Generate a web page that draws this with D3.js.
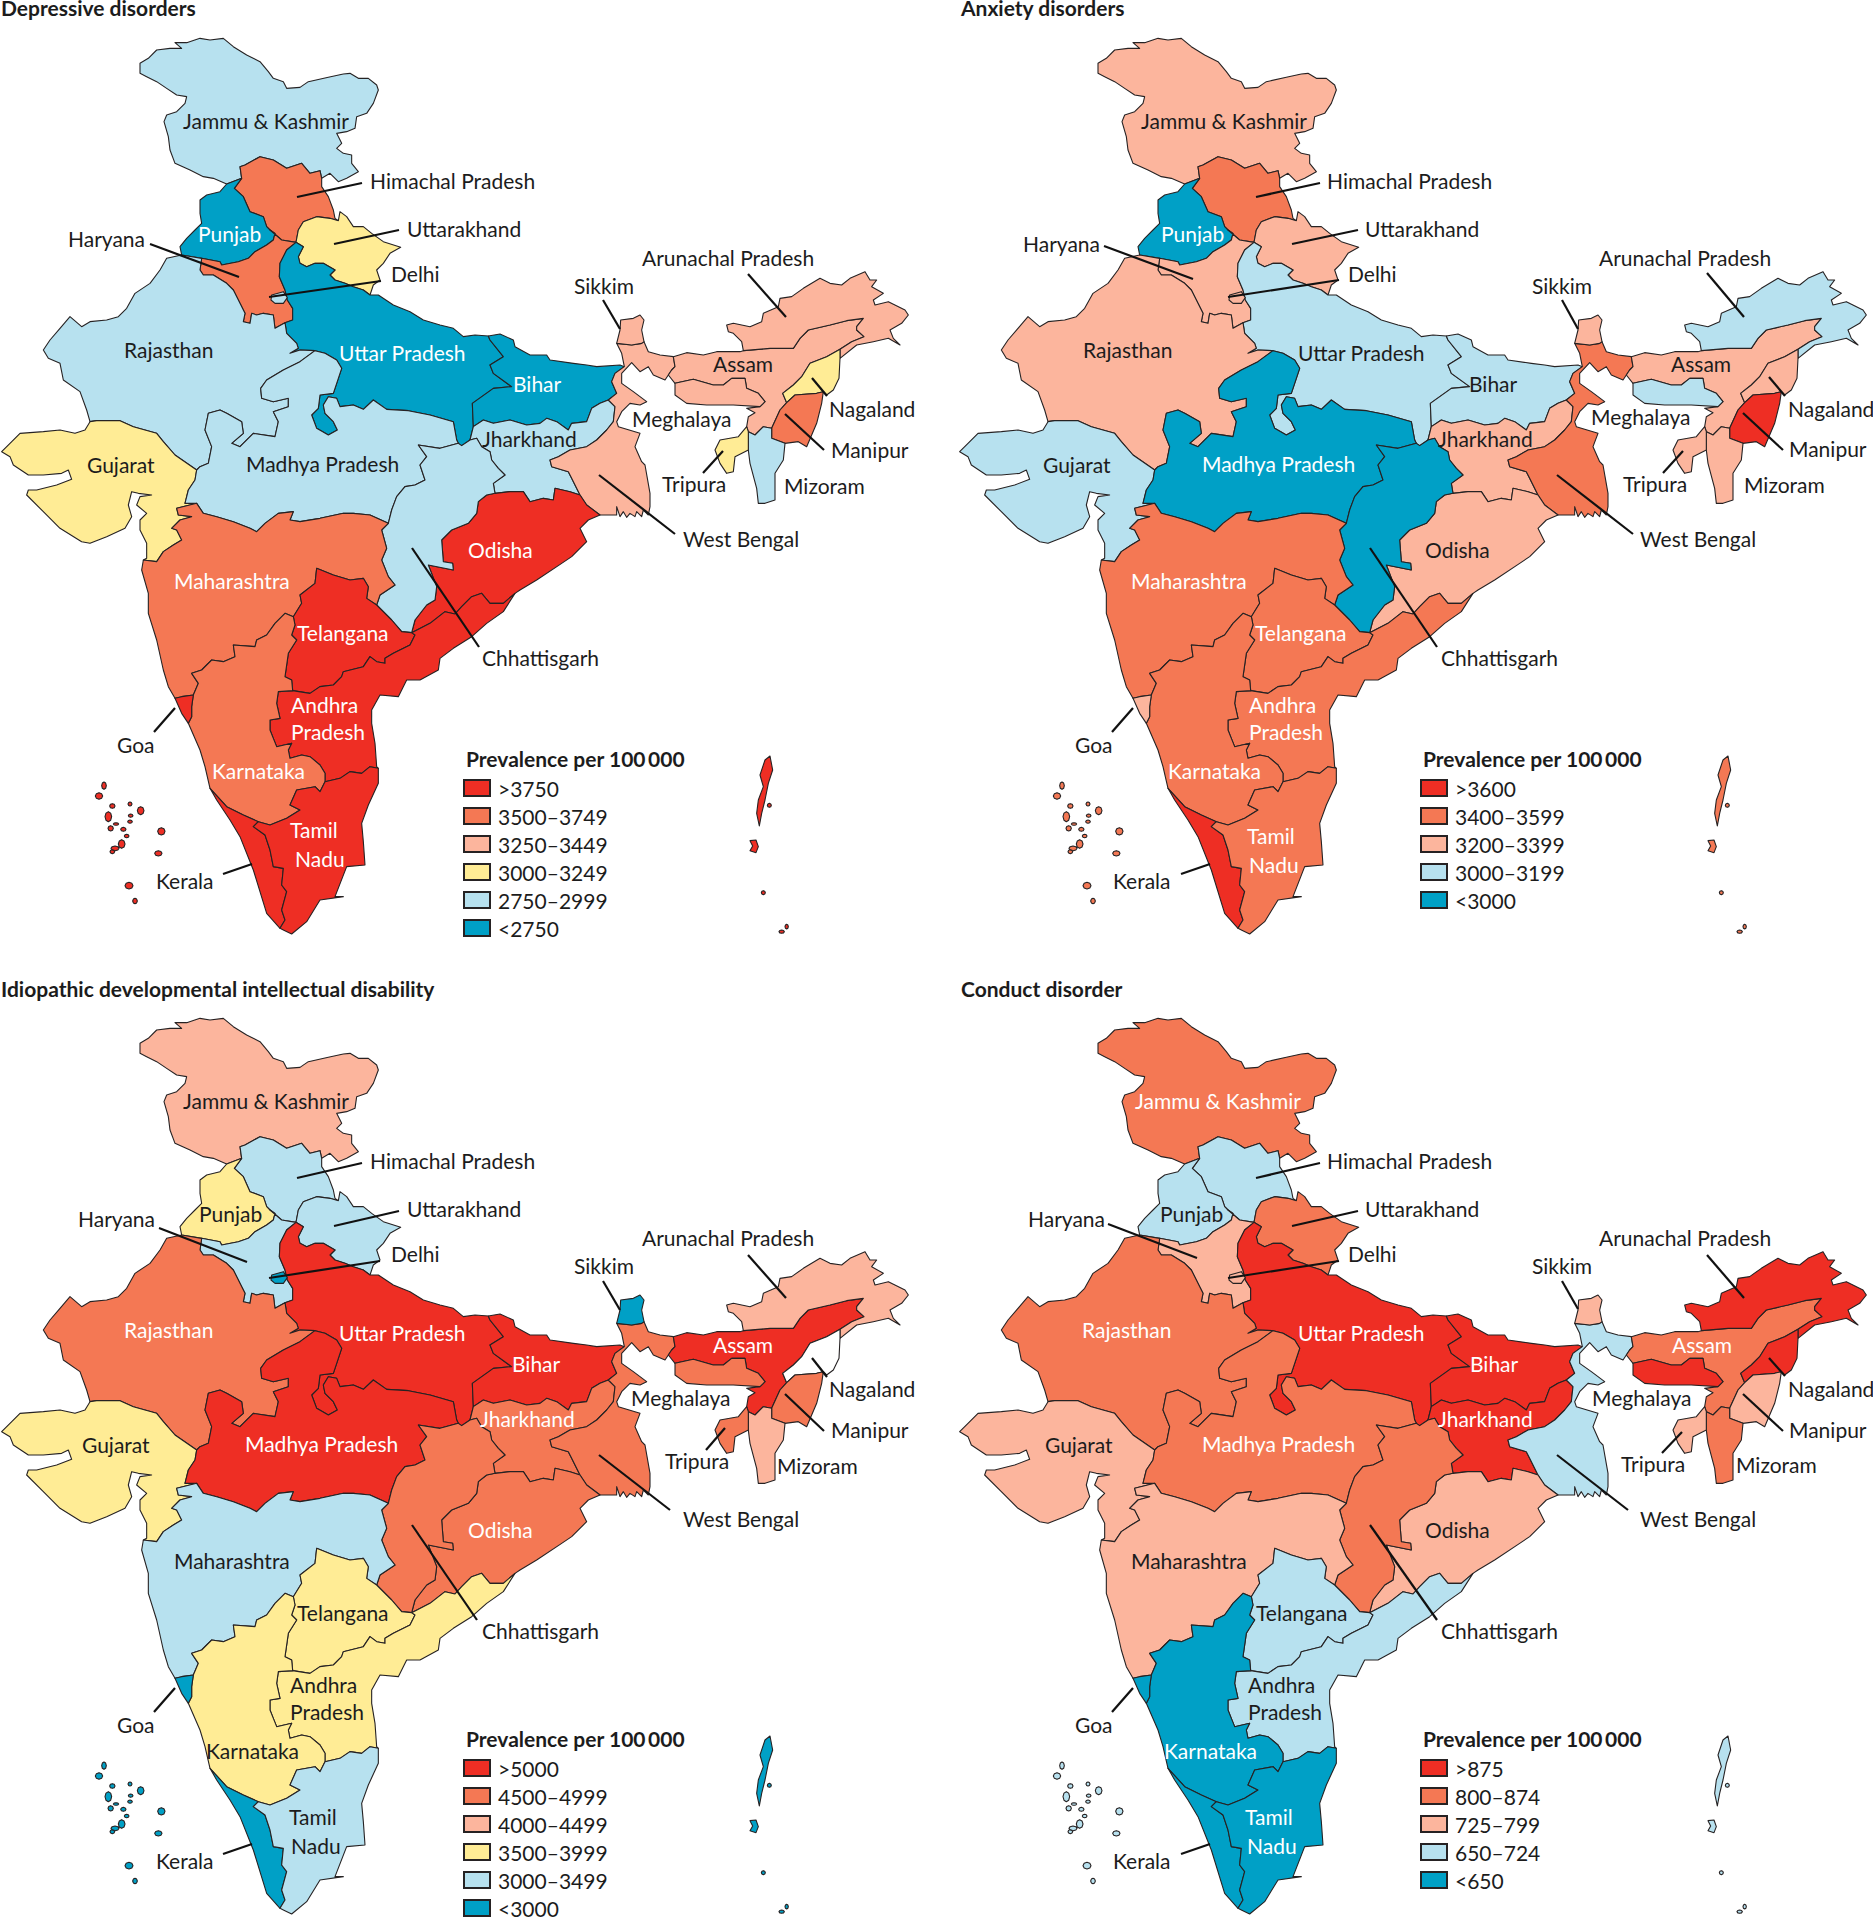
<!DOCTYPE html>
<html>
<head>
<meta charset="utf-8">
<title>Prevalence of mental disorders by state, India</title>
<script src="https://cdn.jsdelivr.net/npm/d3@7"></script>
<style>
    body { margin: 0; background: #fff; }
    text { font-family: Lato, "Noto Sans", sans-serif; font-size: 21px; fill: #1c1c1c; }
    .title, .legend-title { font-weight: 700; }
    .state { stroke: #262223; stroke-width: 1.1; stroke-linejoin: round; }
    .leader { stroke: #111; stroke-width: 2.2; }
</style>
</head>
<body>
<div id="map-container"></div>
<script>
// Band colours, darkest red to blue
var red = "#ee2e24", orange = "#f47854", peach = "#fcb59d", yellow = "#ffec95", lightBlue = "#b7e1ef", blue = "#00a0c6";

// States, in draw order
const stateNames = ["Jammu & Kashmir", "Himachal Pradesh", "Punjab", "Haryana", "Uttarakhand", "Uttar Pradesh", "Rajasthan", "Gujarat",
    "Madhya Pradesh", "Bihar", "Jharkhand", "West Bengal", "Sikkim", "Assam", "Arunachal Pradesh", "Meghalaya", "Nagaland", "Manipur",
    "Mizoram", "Tripura", "Odisha", "Chhattisgarh", "Maharashtra", "Telangana", "Andhra Pradesh", "Karnataka", "Goa", "Kerala",
    "Tamil Nadu", "Delhi", "Lakshadweep", "Andaman & Nicobar"];

// Legend bands
const depressiveBands = [">3750", "3500–3749", "3250–3449", "3000–3249", "2750–2999", "<2750"];
const anxietyBands = [">3600", "3400–3599", "3200–3399", "3000–3199", "<3000"];
const idiopathicBands = [">5000", "4500–4999", "4000–4499", "3500–3999", "3000–3499", "<3000"];
const conductBands = [">875", "800–874", "725–799", "650–724", "<650"];

// Band index of each state, same order as stateNames. null = no fill
const depressiveValues = [4, 1, 5, 1, 3, 5, 4, 3, 4, 5, 4, 2, 2, 2, 2, 2, 3, 1, 4, 3, 0, 4, 1, 0, 0, 1, 0, 0, 0, 4, 0, 0];
const anxietyValues = [2, 1, 4, 2, 2, 3, 2, 3, 4, 3, 2, 1, 2, 2, 3, 3, 2, 0, 2, 2, 2, 4, 1, 1, 1, 1, 2, 0, 1, 2, 1, 1];
const idiopathicValues = [2, 4, 3, 4, 4, 0, 1, 3, 0, 0, 1, 1, 5, 0, 2, 1, null, 1, 2, 1, 1, 1, 4, 3, 3, 3, 5, 5, 4, 5, 5, 5];
const conductValues = [1, 3, 3, 2, 1, 0, 1, 2, 1, 0, 0, 3, 2, 1, 0, 0, 0, 2, 1, 2, 2, 1, 2, 3, 3, 4, 4, 4, 4, 2, 3, 3];

const arcs = {
    jkOuter: [[680,552],[640,535],[610,530],[570,510],[525,490],[510,450],[505,410],[492,365],[500,345],[530,335],[555,310],[560,290],[530,285],[500,265],[470,245],[440,230],[420,220],[420,190],[445,175],[470,150],[510,145],[545,145],[525,128],[560,128],[600,115],[630,120],[670,115],[700,140],[740,165],[780,185],[805,215],[820,235],[850,245],[860,265],[900,262],[925,245],[985,232],[1030,222],[1050,220],[1075,235],[1105,235],[1130,255],[1135,270],[1120,310],[1100,340],[1070,350],[1065,385],[1040,395],[1010,400],[1025,430],[1010,445],[1030,460],[1055,465],[1055,490],[1075,515],[1040,535],[1015,545],[990,520],[965,535]],
    jkHp: [[965,535],[960,512],[930,520],[905,490],[860,505],[820,480],[780,470],[735,495],[720,500],[725,535]],
    jkPb: [[725,535],[680,552]],
    hpPb: [[725,535],[703,565],[730,590],[750,635],[790,650],[800,680],[810,690]],
    hpHr: [[810,690],[845,720],[888,727]],
    hpUk: [[888,727],[895,690],[910,665],[950,650],[990,655],[1015,662]],
    hpOuter: [[965,535],[965,560],[985,590],[1000,630],[1005,655],[1015,662]],
    pbOuter: [[680,552],[660,575],[620,585],[600,600],[600,640],[605,670],[585,690],[560,715],[540,740],[545,765]],
    pbRj: [[545,765],[605,775]],
    pbHr: [[605,775],[660,785],[665,795],[715,785],[745,775],[765,755],[800,735],[820,720],[825,700],[810,690]],
    hrRj: [[605,775],[600,810],[610,825],[640,825],[680,850],[700,870],[735,940],[730,965],[750,970],[755,940],[770,945],[790,940],[820,945],[825,985],[855,968]],
    hrUp: [[855,968],[878,960],[878,925],[862,900],[855,870],[838,830],[840,790],[860,750],[888,727]],
    ukOuter: [[1015,662],[1020,635],[1040,650],[1060,680],[1090,680],[1115,700],[1150,725],[1202,742],[1170,760],[1150,790],[1130,810],[1140,840],[1120,855],[1110,885]],
    ukUp: [[1110,885],[1090,870],[1060,860],[1035,850],[1005,840],[990,825],[1005,810],[970,790],[945,790],[920,800],[900,790],[895,770],[910,740],[888,727]],
    upOuter: [[1110,885],[1135,885],[1180,915],[1230,935],[1270,960],[1320,975],[1360,985],[1390,1010],[1425,1005],[1465,1008]],
    upBr: [[1465,1008],[1470,1020],[1510,1070],[1470,1095],[1480,1120],[1535,1160],[1480,1165],[1417,1210],[1420,1280]],
    upJh: [[1420,1280],[1410,1320]],
    upCh: [[1410,1320],[1385,1337],[1375,1330]],
    upMp: [[945,1052],[975,1060],[1010,1080],[1025,1105],[1010,1150],[1000,1180],[960,1185],[955,1225],[935,1245],[950,1285],[985,1305],[1012,1290],[1000,1265],[975,1240],[970,1215],[985,1190],[1010,1195],[1020,1220],[1060,1215],[1090,1228],[1120,1200],[1160,1228],[1225,1232],[1290,1245],[1360,1265],[1370,1320],[1375,1330]],
    upRj: [[855,968],[860,1000],[890,1030],[895,1045],[870,1060],[900,1050],[945,1052]],
    brOuter: [[1465,1008],[1500,1002],[1540,1020],[1545,1040],[1590,1065],[1640,1065],[1650,1080],[1720,1090],[1760,1095],[1790,1100],[1860,1095],[1873,1100]],
    brWb: [[1873,1100],[1845,1120],[1835,1145],[1850,1180],[1825,1200]],
    brJh: [[1825,1200],[1800,1210],[1775,1225],[1760,1265],[1715,1270],[1705,1290],[1670,1265],[1640,1255],[1620,1270],[1580,1275],[1530,1260],[1480,1270],[1450,1260],[1420,1280]],
    jhWb: [[1825,1200],[1845,1220],[1840,1265],[1820,1290],[1790,1320],[1760,1340],[1710,1350],[1675,1370],[1650,1380],[1655,1400],[1705,1415],[1715,1435],[1740,1485]],
    jhOd: [[1740,1485],[1710,1475],[1665,1465],[1660,1500],[1630,1495],[1590,1505],[1570,1475],[1530,1475],[1485,1480]],
    jhCh: [[1485,1480],[1480,1450],[1515,1425],[1495,1405],[1475,1380],[1470,1355],[1445,1340],[1430,1315],[1410,1320]],
    odWb: [[1740,1485],[1760,1515],[1800,1545]],
    odCoast: [[1800,1545],[1765,1560],[1740,1585],[1760,1625],[1715,1670],[1685,1690],[1610,1740],[1560,1770],[1545,1780]],
    apOd: [[1235,1898],[1290,1870],[1335,1835],[1365,1842],[1385,1820],[1415,1790],[1445,1780],[1470,1810],[1510,1810],[1545,1780]],
    chOd: [[1235,1898],[1245,1860],[1280,1815],[1305,1800],[1310,1760],[1285,1695],[1360,1710],[1358,1690],[1330,1685],[1325,1620],[1355,1590],[1405,1570],[1430,1540],[1435,1505],[1460,1485],[1485,1480]],
    chMp: [[1375,1330],[1320,1345],[1255,1335],[1280,1370],[1260,1395],[1275,1440],[1245,1455],[1215,1460],[1190,1490],[1175,1530],[1165,1570]],
    chMh: [[1165,1570],[1145,1590],[1160,1645],[1145,1680],[1165,1730],[1185,1755],[1140,1785],[1130,1815]],
    chTl: [[1130,1815],[1175,1860],[1205,1895],[1235,1898]],
    rjMp: [[945,1052],[900,1085],[850,1110],[800,1140],[782,1165],[785,1195],[820,1205],[865,1195],[865,1220],[820,1235],[835,1265],[825,1310],[760,1300],[720,1340],[695,1330],[730,1300],[725,1265],[680,1240],[660,1230],[625,1240],[615,1290],[635,1340],[625,1390],[600,1400],[590,1410]],
    mpGj: [[590,1410],[585,1440],[565,1470],[555,1510],[590,1510]],
    mhMp: [[590,1510],[610,1540],[650,1550],[700,1565],[750,1585],[770,1595],[795,1570],[835,1540],[880,1535],[870,1560],[900,1565],[960,1555],[1030,1540],[1060,1540],[1110,1545],[1165,1570]],
    rjOuter: [[545,765],[500,775],[480,810],[450,850],[405,880],[380,925],[355,950],[320,960],[270,965],[245,980],[210,950],[180,985],[150,1020],[130,1050],[145,1075],[180,1090],[190,1140],[240,1175],[260,1230],[270,1265]],
    rjGj: [[270,1265],[290,1262],[360,1262],[400,1280],[470,1300],[490,1325],[525,1365],[590,1410]],
    gjOuter: [[270,1265],[255,1290],[225,1300],[180,1290],[130,1295],[60,1300],[30,1330],[5,1355],[30,1370],[40,1395],[85,1425],[130,1425],[185,1420],[205,1410],[215,1438],[170,1455],[110,1470],[85,1470],[80,1485],[130,1535],[180,1585],[245,1625],[270,1630],[320,1610],[375,1585],[395,1550],[385,1515],[395,1475],[415,1480],[455,1485],[420,1490],[410,1515],[440,1540],[420,1560],[420,1590],[440,1630],[440,1675],[430,1680]],
    gjMh: [[430,1680],[470,1685],[490,1655],[520,1635],[545,1620],[530,1590],[515,1585],[540,1560],[575,1550],[535,1545],[530,1525],[590,1510]],
    mhCoast: [[430,1680],[425,1710],[445,1780],[445,1840],[470,1920],[490,2010],[505,2060],[525,2095]],
    mhGoa: [[525,2095],[545,2090],[580,2085]],
    kaMh: [[580,2085],[595,2050],[575,2020],[605,2010],[635,1980],[670,1985],[705,1970],[700,1935],[765,1940],[770,1920],[800,1905],[825,1870],[855,1840],[880,1850]],
    mhTl: [[880,1850],[905,1810],[900,1785],[945,1750],[950,1705],[1000,1725],[1050,1740],[1090,1735],[1105,1760],[1100,1795],[1130,1815]],
    goaCoast: [[525,2095],[545,2140],[565,2170]],
    goaKa: [[565,2170],[575,2150],[575,2120],[580,2085]],
    kaCoast: [[565,2170],[600,2250],[615,2300],[630,2365]],
    kaKl: [[630,2365],[680,2420],[730,2445],[775,2465]],
    kaTn: [[775,2465],[810,2475],[860,2455],[900,2430],[870,2415],[890,2370],[945,2360],[960,2375],[975,2345]],
    apKa: [[975,2345],[975,2320],[960,2295],[930,2270],[905,2265],[870,2275],[865,2250],[875,2230],[830,2240],[820,2215],[810,2190],[810,2160],[840,2155],[830,2110],[835,2075],[878,2072]],
    kaTl: [[878,2072],[875,2040],[855,2030],[865,1960],[890,1920],[875,1905],[885,1875],[880,1850]],
    apTl: [[878,2072],[930,2080],[960,2060],[1000,2055],[1025,2030],[1030,2015],[1090,2000],[1110,1970],[1130,1985],[1155,1990],[1155,1975],[1180,1960],[1230,1935],[1245,1905],[1235,1898]],
    apCoast: [[1545,1780],[1510,1835],[1460,1870],[1415,1910],[1360,1945],[1320,1975],[1315,2010],[1260,2040],[1220,2040],[1195,2090],[1140,2085],[1115,2130],[1115,2170],[1125,2230],[1130,2300],[1135,2305]],
    apTn: [[1135,2305],[1110,2300],[1085,2320],[1050,2315],[1020,2335],[975,2345]],
    tnOuter: [[1135,2305],[1135,2350],[1105,2415],[1085,2470],[1090,2525],[1095,2595],[1040,2600],[1005,2690],[1030,2690],[960,2700],[920,2765],[875,2802],[850,2790],[840,2785]],
    klTn: [[775,2465],[760,2480],[795,2505],[810,2550],[820,2600],[850,2605],[845,2655],[860,2675],[845,2730],[855,2760],[840,2785]],
    klCoast: [[840,2785],[800,2740],[760,2610],[720,2510],[690,2460],[650,2400],[630,2365]],
    skWb: [[1850,1030],[1895,1035],[1925,1030],[1932,1025]],
    skOuter: [[1932,1025],[1925,990],[1932,960],[1920,945],[1900,955],[1862,960],[1860,990],[1850,1030]],
    wbTop1: [[1873,1100],[1865,1060],[1850,1030]],
    wbTop2: [[1932,1025],[1945,1055],[1980,1065],[2020,1070]],
    asWb: [[2020,1070],[2025,1100],[2015,1110],[2005,1125]],
    wbEast: [[2005,1125],[1995,1140],[1960,1125],[1945,1100],[1920,1115],[1895,1088],[1865,1120],[1865,1150],[1900,1175],[1940,1205],[1920,1215],[1890,1210],[1865,1235],[1850,1265],[1855,1280],[1920,1300],[1905,1340],[1925,1385],[1935,1395],[1950,1480],[1950,1520],[1945,1545],[1930,1530],[1925,1550],[1910,1535],[1905,1550],[1890,1540],[1880,1552],[1870,1535],[1860,1550],[1850,1520],[1850,1545],[1800,1545]],
    asTop: [[2020,1070],[2060,1058],[2110,1065],[2150,1055],[2220,1055],[2230,1052]],
    asAr: [[2230,1052],[2310,1045],[2380,1045],[2400,1015],[2425,990],[2490,975],[2540,962],[2590,955],[2570,980],[2570,990],[2592,1010],[2555,1025],[2520,1048]],
    asNg: [[2520,1048],[2480,1070],[2430,1090],[2405,1130],[2380,1155],[2348,1180],[2360,1208]],
    asMn: [[2360,1208],[2340,1230],[2315,1285]],
    asMz: [[2315,1285],[2290,1280],[2265,1305],[2245,1295]],
    asTr: [[2245,1295],[2240,1280]],
    asOuter: [[2240,1280],[2245,1250],[2265,1238],[2240,1225],[2280,1220]],
    asMl: [[2280,1220],[2295,1205],[2275,1180],[2240,1165],[2235,1135],[2195,1135],[2170,1155],[2140,1155],[2080,1138],[2025,1150]],
    asWest: [[2025,1150],[2005,1125]],
    mlOuter: [[2025,1150],[2025,1185],[2060,1210],[2120,1215],[2200,1215],[2280,1220]],
    arOuter: [[2230,1052],[2225,1025],[2200,1000],[2185,995],[2180,975],[2200,970],[2250,980],[2285,965],[2290,940],[2335,920],[2340,895],[2375,890],[2410,865],[2460,835],[2490,850],[2525,855],[2550,835],[2595,815],[2610,840],[2630,840],[2615,860],[2650,880],[2620,900],[2625,915],[2665,905],[2715,930],[2725,945],[2705,970],[2670,990],[2680,1015],[2700,1035],[2665,1015],[2620,1025],[2570,1035],[2520,1075]],
    arNg: [[2520,1075],[2520,1048]],
    ngOuter: [[2520,1075],[2517,1135],[2500,1170],[2480,1185],[2470,1175]],
    mnNg: [[2360,1208],[2385,1185],[2450,1180],[2470,1175]],
    mnOuter: [[2470,1175],[2465,1210],[2450,1270],[2420,1340],[2395,1325],[2355,1330]],
    mzMn: [[2355,1330],[2315,1315],[2315,1285]],
    mzOuter: [[2355,1330],[2350,1380],[2325,1420],[2325,1500],[2295,1510],[2275,1510],[2270,1465],[2250,1390],[2245,1350]],
    mzTr: [[2245,1350],[2245,1295]],
    trOuter: [[2240,1280],[2215,1310],[2160,1320],[2145,1350],[2160,1390],[2180,1420],[2200,1415],[2205,1370],[2245,1350]],
    delhi: [[815,885],[850,875],[862,893],[850,910],[825,910],[813,900],[815,885]],
    andamanMain: [[2310,2268],[2318,2310],[2305,2350],[2295,2400],[2285,2440],[2278,2478],[2270,2440],[2275,2400],[2290,2360],[2280,2325],[2295,2280],[2310,2268]],
    littleAndaman: [[2250,2522],[2268,2520],[2275,2540],[2268,2558],[2250,2552],[2258,2538],[2250,2522]]
};

// Arcs that make up each state, "-" walks the arc backwards. Same order as stateNames
const stateRings = [
    ["jkOuter", "jkHp", "jkPb"],
    ["hpOuter", "-hpUk", "-hpHr", "-hpPb", "-jkHp"],
    ["pbOuter", "pbRj", "pbHr", "-hpPb", "jkPb"],
    ["pbHr", "hpHr", "-hrUp", "-hrRj"],
    ["hpUk", "ukOuter", "ukUp"],
    ["upOuter", "upBr", "upJh", "upCh", "-upMp", "-upRj", "hrUp", "-ukUp"],
    ["rjOuter", "rjGj", "-rjMp", "-upRj", "-hrRj", "-pbRj"],
    ["gjOuter", "gjMh", "-mpGj", "-rjGj"],
    ["rjMp", "mpGj", "mhMp", "-chMp", "-upMp"],
    ["brOuter", "brWb", "brJh", "-upBr"],
    ["-brJh", "jhWb", "jhOd", "jhCh", "-upJh"],
    ["wbTop1", "skWb", "wbTop2", "asWb", "wbEast", "-odWb", "-jhWb", "-brWb"],
    ["skWb", "skOuter"],
    ["asTop", "asAr", "asNg", "asMn", "asMz", "asTr", "asOuter", "asMl", "asWest", "-asWb"],
    ["arOuter", "arNg", "-asAr"],
    ["mlOuter", "asMl"],
    ["-asNg", "-arNg", "ngOuter", "-mnNg"],
    ["mnNg", "mnOuter", "mzMn", "-asMn"],
    ["-asMz", "-mzMn", "mzOuter", "mzTr"],
    ["trOuter", "mzTr", "asTr"],
    ["-jhOd", "odWb", "odCoast", "-apOd", "chOd"],
    ["chMp", "chMh", "chTl", "chOd", "jhCh", "upCh"],
    ["mhCoast", "mhGoa", "kaMh", "mhTl", "-chMh", "-mhMp", "-gjMh"],
    ["mhTl", "chTl", "-apTl", "kaTl"],
    ["apTl", "apOd", "apCoast", "apTn", "apKa"],
    ["kaCoast", "kaKl", "kaTn", "apKa", "kaTl", "-kaMh", "-goaKa"],
    ["goaCoast", "goaKa", "-mhGoa"],
    ["klCoast", "kaKl", "klTn"],
    ["tnOuter", "-klTn", "kaTn", "-apTn"],
    ["delhi"]
];

// Islands too small to trace: centre and radii in map units
const lakshadweepBlobs = [[312,2357,7,11],[297,2388,11,10],[337,2418,8,7],[390,2412,6,6],[422,2432,10,12],[392,2447,7,5],[390,2465,7,5],[325,2450,10,15],[348,2472,8,4],[332,2485,8,8],[370,2488,8,6],[380,2508,7,5],[484,2494,11,11],[365,2532,10,13],[345,2545,12,7],[337,2555,7,6],[475,2560,11,8],[387,2657,12,10],[405,2703,7,8]];
const andamanBlobs = [[2308,2416,6,6],[2290,2678,6,6],[2345,2795,8,5],[2360,2780,5,7]];

// Text and leader lines per panel
const depressiveLabels = [
    ["Jammu & Kashmir",183,129,0],["Himachal Pradesh",370,189,0],["Uttarakhand",407,237,0],["Delhi",391,282,0],["Haryana",68,247,0],
    ["Punjab",198,242,1],["Rajasthan",124,358,0],["Uttar Pradesh",339,361,1],["Bihar",513,392,1],["Sikkim",574,294,0],
    ["Arunachal Pradesh",642,266,0],["Assam",713,372,0],["Meghalaya",632,427,0],["Nagaland",829,417,0],["Manipur",831,458,0],
    ["Mizoram",784,494,0],["Tripura",662,492,0],["Jharkhand",482,447,0],["West Bengal",683,547,0],["Odisha",468,558,1],
    ["Gujarat",87,473,0],["Madhya Pradesh",246,472,0],["Maharashtra",174,589,1],["Telangana",297,641,1],["Andhra",291,713,1],
    ["Pradesh",291,740,1],["Karnataka",212,779,1],["Tamil",290,838,1],["Nadu",295,867,1],["Kerala",156,889,0],["Goa",117,753,0],
    ["Chhattisgarh",482,666,0]];
const anxietyLabels = [
    ["Jammu & Kashmir",1141,129,0],["Himachal Pradesh",1327,189,0],["Uttarakhand",1365,237,0],["Delhi",1348,282,0],["Haryana",1023,252,0],
    ["Punjab",1161,242,1],["Rajasthan",1083,358,0],["Uttar Pradesh",1298,361,0],["Bihar",1469,392,0],["Sikkim",1532,294,0],
    ["Arunachal Pradesh",1599,266,0],["Assam",1671,372,0],["Meghalaya",1591,425,0],["Nagaland",1788,417,0],["Manipur",1789,457,0],
    ["Mizoram",1744,493,0],["Tripura",1623,492,0],["Jharkhand",1438,447,0],["West Bengal",1640,547,0],["Odisha",1425,558,0],
    ["Gujarat",1043,473,0],["Madhya Pradesh",1202,472,1],["Maharashtra",1131,589,1],["Telangana",1255,641,1],["Andhra",1249,713,1],
    ["Pradesh",1249,740,1],["Karnataka",1168,779,1],["Tamil",1247,844,1],["Nadu",1249,873,1],["Kerala",1113,889,0],["Goa",1075,753,0],
    ["Chhattisgarh",1441,666,0]];
const idiopathicLabels = [
    ["Jammu & Kashmir",183,1109,0],["Himachal Pradesh",370,1169,0],["Uttarakhand",407,1217,0],["Delhi",391,1262,0],["Haryana",78,1227,0],
    ["Punjab",199,1222,0],["Rajasthan",124,1338,1],["Uttar Pradesh",339,1341,1],["Bihar",512,1372,1],["Sikkim",574,1274,0],
    ["Arunachal Pradesh",642,1246,0],["Assam",713,1353,1],["Meghalaya",631,1406,0],["Nagaland",829,1397,0],["Manipur",831,1438,0],
    ["Mizoram",777,1474,0],["Tripura",665,1469,0],["Jharkhand",480,1427,1],["West Bengal",683,1527,0],["Odisha",468,1538,1],
    ["Gujarat",82,1453,0],["Madhya Pradesh",245,1452,1],["Maharashtra",174,1569,0],["Telangana",297,1621,0],["Andhra",290,1693,0],
    ["Pradesh",290,1720,0],["Karnataka",206,1759,0],["Tamil",289,1825,0],["Nadu",291,1854,0],["Kerala",156,1869,0],["Goa",117,1733,0],
    ["Chhattisgarh",482,1639,0]];
const conductLabels = [
    ["Jammu & Kashmir",1135,1109,1],["Himachal Pradesh",1327,1169,0],["Uttarakhand",1365,1217,0],["Delhi",1348,1262,0],["Haryana",1028,1227,0],
    ["Punjab",1160,1222,0],["Rajasthan",1082,1338,1],["Uttar Pradesh",1298,1341,1],["Bihar",1470,1372,1],["Sikkim",1532,1274,0],
    ["Arunachal Pradesh",1599,1246,0],["Assam",1672,1353,1],["Meghalaya",1592,1406,0],["Nagaland",1788,1397,0],["Manipur",1789,1438,0],
    ["Mizoram",1736,1473,0],["Tripura",1621,1472,0],["Jharkhand",1438,1427,1],["West Bengal",1640,1527,0],["Odisha",1425,1538,0],
    ["Gujarat",1045,1453,0],["Madhya Pradesh",1202,1452,1],["Maharashtra",1131,1569,0],["Telangana",1256,1621,0],["Andhra",1248,1693,0],
    ["Pradesh",1248,1720,0],["Karnataka",1164,1759,1],["Tamil",1245,1825,1],["Nadu",1247,1854,1],["Kerala",1113,1869,0],["Goa",1075,1733,0],
    ["Chhattisgarh",1441,1639,0]];

const depressiveLeaders = [[362,183,297,197],[399,230,334,244],[381,281,269,297],[150,244,239,277],[603,300,620,329],[748,274,786,317],[812,378,827,396],[785,414,824,450],[723,451,703,473],[599,475,675,534],[412,548,479,647],[175,708,154,732],[252,864,223,874]];
const anxietyLeaders = [[1320,183,1256,197],[1358,230,1292,244],[1339,280,1228,297],[1104,246,1193,279],[1562,300,1578,329],[1707,273,1744,317],[1769,377,1785,396],[1743,413,1783,450],[1683,451,1663,473],[1557,475,1633,534],[1370,548,1437,647],[1133,708,1112,732],[1210,864,1181,874]];
const idiopathicLeaders = [[362,1163,297,1178],[399,1211,334,1226],[380,1261,269,1278],[159,1228,247,1262],[603,1281,620,1310],[748,1255,786,1298],[812,1358,827,1377],[785,1394,824,1431],[725,1428,706,1450],[599,1455,670,1510],[412,1525,477,1620],[175,1688,154,1712],[252,1844,223,1854]];
const conductLeaders = [[1320,1163,1256,1178],[1358,1211,1292,1226],[1339,1261,1228,1278],[1108,1224,1197,1258],[1562,1281,1578,1309],[1707,1255,1744,1298],[1769,1358,1785,1376],[1743,1394,1783,1431],[1682,1432,1662,1453],[1557,1455,1628,1510],[1370,1525,1437,1620],[1133,1688,1112,1712],[1210,1844,1181,1854]];

// Sizing
var width = 1873;
var height = 1920;

var svg = d3.select("#map-container")
    .append("svg")
    .attr("width", width)
    .attr("height", height)
    .style("display", "block");

// Walk a list of arcs into one closed ring
function buildRing(names) {
    const ring = [];
    names.forEach(function (name) {
        const back = name[0] === "-";
        const pts = arcs[back ? name.slice(1) : name].slice();
        if (back) pts.reverse();
        pts.forEach(p => ring.push(p));
    });
    ring.push(ring[0]);
    return ring;
}

function blobRing(b) {
    return d3.range(0, 8).map(i => [b[0] + b[2] * Math.cos(i * Math.PI / 4), b[1] + b[3] * Math.sin(i * Math.PI / 4)])
        .concat([[b[0] + b[2], b[1]]]);
}

const features = stateRings.map(function (names, i) {
    return { type: "Feature", properties: { index: i }, geometry: { type: "Polygon", coordinates: [buildRing(names)] } };
});
features.push({ type: "Feature", properties: { index: 30 }, geometry: { type: "MultiPolygon", coordinates: lakshadweepBlobs.map(b => [blobRing(b)]) } });
features.push({ type: "Feature", properties: { index: 31 }, geometry: { type: "MultiPolygon",
    coordinates: [[arcs.andamanMain], [arcs.littleAndaman]].concat(andamanBlobs.map(b => [blobRing(b)])) } });

// Draw one of the four maps
function drawPanel(p) {
    const g = svg.append("g");

    const color = d3.scaleOrdinal().domain(d3.range(p.bands.length)).range(p.colors);

    // Map units are three times finer than the page
    const projection = d3.geoIdentity().scale(1 / 3).translate([p.x, p.y]);
    const path = d3.geoPath().projection(projection);

    g.selectAll("path")
        .data(features)
        .enter()
        .append("path")
        .attr("class", "state")
        .attr("d", path)
        .attr("fill", d => p.values[d.properties.index] === null ? "#fff" : color(p.values[d.properties.index]))
        .append("title")
        .text(d => stateNames[d.properties.index]);

    g.append("text")
        .attr("class", "title")
        .attr("x", p.titleX)
        .attr("y", p.titleY)
        .text(p.title);

    g.selectAll("line")
        .data(p.leaders)
        .enter()
        .append("line")
        .attr("class", "leader")
        .attr("x1", d => d[0]).attr("y1", d => d[1])
        .attr("x2", d => d[2]).attr("y2", d => d[3]);

    g.selectAll("text.label")
        .data(p.labels)
        .enter()
        .append("text")
        .attr("class", "label")
        .attr("x", d => d[1])
        .attr("y", d => d[2])
        .style("fill", d => d[3] ? "#fff" : null)
        .text(d => d[0]);

    // Legend
    const legend = g.append("g").attr("transform", `translate(${p.legendX},${p.legendY})`);
    legend.append("text")
        .attr("class", "legend-title")
        .attr("x", 2)
        .attr("y", 0)
        .text("Prevalence per 100\u2009000");

    const rowY = d3.scalePoint().domain(d3.range(p.bands.length)).range([13, 13 + 28 * (p.bands.length - 1)]);
    legend.selectAll("rect")
        .data(p.bands)
        .enter()
        .append("rect")
        .attr("x", 0)
        .attr("y", (d, i) => rowY(i))
        .attr("width", 26)
        .attr("height", 16)
        .attr("fill", (d, i) => color(i))
        .attr("stroke", "#262223")
        .attr("stroke-width", 2);
    legend.selectAll("text.band")
        .data(p.bands)
        .enter()
        .append("text")
        .attr("class", "band")
        .attr("x", 34)
        .attr("y", (d, i) => rowY(i) + 17)
        .text(d => d);
}

const sixColors = [red, orange, peach, yellow, lightBlue, blue];
const fiveColors = [red, orange, peach, lightBlue, blue];

drawPanel({ title: "Depressive disorders", titleX: 1, titleY: 16, x: 0, y: 0, values: depressiveValues, bands: depressiveBands,
    colors: sixColors, labels: depressiveLabels, leaders: depressiveLeaders, legendX: 464, legendY: 767 });
drawPanel({ title: "Anxiety disorders", titleX: 961, titleY: 16, x: 958, y: 0, values: anxietyValues, bands: anxietyBands,
    colors: fiveColors, labels: anxietyLabels, leaders: anxietyLeaders, legendX: 1421, legendY: 767 });
drawPanel({ title: "Idiopathic developmental intellectual disability", titleX: 1, titleY: 997, x: 0, y: 980, values: idiopathicValues, bands: idiopathicBands,
    colors: sixColors, labels: idiopathicLabels, leaders: idiopathicLeaders, legendX: 464, legendY: 1747 });
drawPanel({ title: "Conduct disorder", titleX: 961, titleY: 997, x: 958, y: 980, values: conductValues, bands: conductBands,
    colors: fiveColors, labels: conductLabels, leaders: conductLeaders, legendX: 1421, legendY: 1747 });
</script>
</body>
</html>
